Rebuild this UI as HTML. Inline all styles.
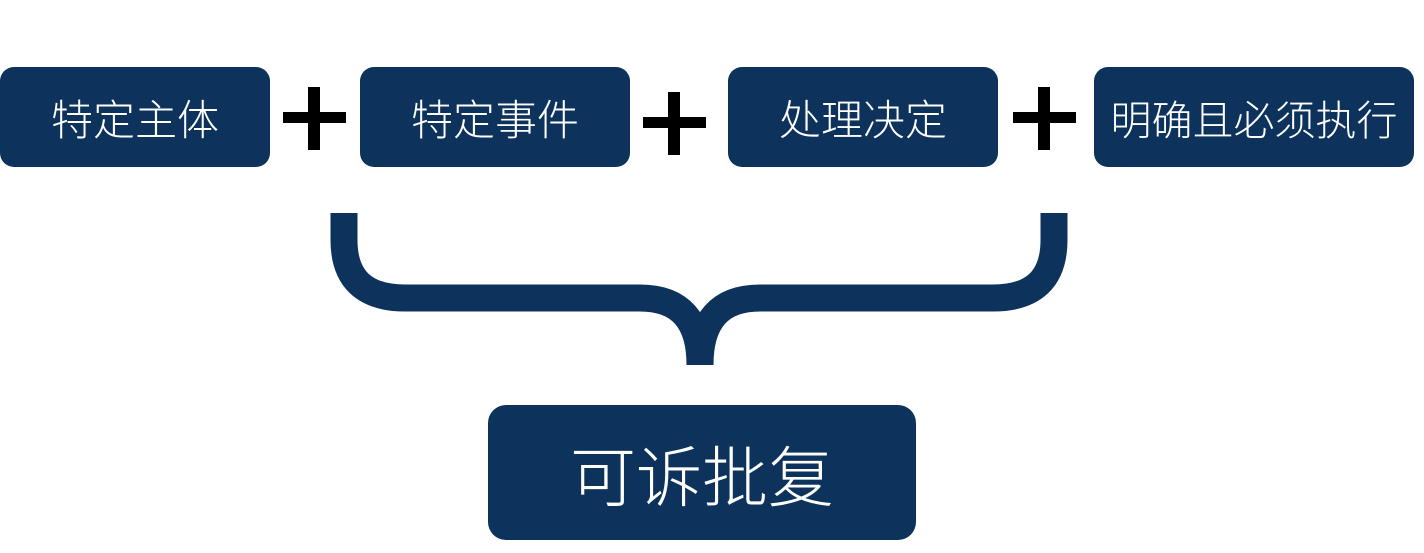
<!DOCTYPE html>
<html><head><meta charset="utf-8"><style>
body{margin:0;width:1424px;height:553px;background:#fff;position:relative;overflow:hidden;font-family:"Noto Sans CJK SC",sans-serif;font-weight:300}
.b{position:absolute;background:#0d335d;border-radius:14px;color:#fff;display:flex;align-items:center;justify-content:center;font-size:42px;top:67px;height:100px;white-space:nowrap}
</style></head><body>
<div class="b" style="left:0;width:270px">特定主体</div>
<div class="b" style="left:360px;width:270px">特定事件</div>
<div class="b" style="left:728px;width:270px">处理决定</div>
<div class="b" style="left:1094px;width:320px;font-size:41px">明确且必须执行</div>
<div class="b" style="left:488px;top:405px;width:428px;height:135px;font-size:66px;border-radius:18px">可诉批复</div>
<svg width="1424" height="553" style="position:absolute;left:0;top:0">
<g fill="#000">
<rect x="283" y="112" width="63" height="11"/><rect x="308" y="87" width="12" height="63"/>
<rect x="643" y="117" width="63" height="11"/><rect x="668" y="92" width="12" height="63"/>
<rect x="1013" y="112" width="63" height="11"/><rect x="1038" y="87" width="12" height="63"/>
</g>
<g fill="none" stroke="#0d335d" stroke-width="27">
<path d="M344 213 L344 240 Q344 298 405 298 L640 298 Q700 298 700 365"/>
<path d="M1054 213 L1054 240 Q1054 298 993 298 L760 298 Q700 298 700 365"/>
</g>
</svg>
</body></html>
